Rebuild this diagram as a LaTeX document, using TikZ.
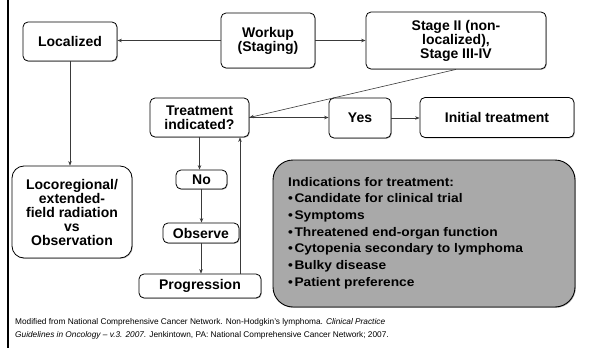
\documentclass[tikz,border=0pt]{standalone}
\usepackage{fontspec}
\setmainfont{Liberation Sans}
\newfontfamily\widefont[FakeStretch=1.1]{Liberation Sans}
\usetikzlibrary{arrows.meta,shadows}
\definecolor{boxgray}{HTML}{A9A9A9}
\definecolor{linegray}{HTML}{3A3A3A}
\tikzset{
  flowbox/.style={draw=black, line width=0.8pt, rounded corners=5pt, fill=white,
    align=center, inner sep=0pt, font=\fontsize{14}{14}\selectfont\bfseries,
    drop shadow={shadow xshift=0.8pt, shadow yshift=-0.8pt, fill=black!45, opacity=0.6}},
  arr/.style={draw=linegray, line width=0.6pt, -{Stealth[length=4.5pt,width=3.5pt]}},
  foot/.style={anchor=west, inner sep=0pt, font=\fontsize{8.3}{10}\selectfont}
}
\begin{document}
\begin{tikzpicture}[x=1pt,y=-1pt]
\useasboundingbox (0,0) rectangle (592,348);
\fill[white] (0,0) rectangle (592,348);
\fill[black] (6.5,0) rectangle (9,348);

\node[flowbox, minimum width=94pt, minimum height=39pt] (loc) at (70,41.5) {Localized};
\node[flowbox, minimum width=94pt, minimum height=55pt] (work) at (268,40.5) {Workup\\(Staging)};
\node[flowbox, minimum width=180pt, minimum height=57pt] (stage) at (456,40.5) {Stage II (non-\\localized),\\Stage III-IV};
\node[flowbox, minimum width=99pt, minimum height=39pt] (treat) at (199.5,117.5) {Treatment\\indicated?};
\node[flowbox, minimum width=62pt, minimum height=40pt] (yes) at (360,118) {Yes};
\node[flowbox, minimum width=154pt, minimum height=40pt] (init) at (497,117.5) {Initial treatment};
\node[flowbox, rounded corners=12pt, minimum width=120pt, minimum height=92pt] (loco) at (72,212) {Locoregional/\\extended-\\field radiation\\vs\\Observation};
\node[flowbox, minimum width=51pt, minimum height=19pt] (no) at (201.5,179.5) {No};
\node[flowbox, minimum width=76pt, minimum height=20pt] (obs) at (201,233) {Observe};
\node[flowbox, minimum width=122pt, minimum height=24pt] (prog) at (200,286) {Progression};

\node[draw=black, line width=0.9pt, fill=boxgray, rounded corners=20pt,
      minimum width=302pt, minimum height=147pt, inner sep=0pt,
      drop shadow={shadow xshift=0.8pt, shadow yshift=-0.8pt, fill=black!50, opacity=0.6}] (ind) at (424,233.5) {};
\node[anchor=west, align=left, inner sep=0pt, font=\widefont\fontsize{12.5}{16.67}\selectfont\bfseries] (indtext) at (288,233)
 {Indications for treatment:\\
  •\kern1.5pt Candidate for clinical trial\\
  •\kern1.5pt Symptoms\\
  •\kern1.5pt Threatened end-organ function\\
  •\kern1.5pt Cytopenia secondary to lymphoma\\
  •\kern1.5pt Bulky disease\\
  •\kern1.5pt Patient preference};

\draw[arr] (work.west) -- (work.west -| loc.east);
\draw[arr] (work.east) -- (work.east -| stage.west);
\draw[arr] (loc.south) -- (loc.south |- loco.north);
\draw[arr] (stage.south) -- (treat.east);
\draw[arr] (treat.east) -- (treat.east -| yes.west);
\draw[arr] (yes.east) -- (yes.east -| init.west);
\draw[arr] (treat.south) -- (treat.south |- no.north);
\draw[arr] (no.south) -- (no.south |- obs.north);
\draw[arr] (obs.south) -- (obs.south |- prog.north);
\draw[arr] ([xshift=40pt]prog.north) -- ([xshift=40pt]prog.north |- treat.south);

\node[foot] (f1) at (15,322) {Modified from National Comprehensive Cancer Network. Non-Hodgkin’s lymphoma. \textit{Clinical Practice}};
\node[foot] (f2) at (15,335) {\textit{Guidelines in Oncology – v.3. 2007.} Jenkintown, PA: National Comprehensive Cancer Network; 2007.};
\end{tikzpicture}
\end{document}
